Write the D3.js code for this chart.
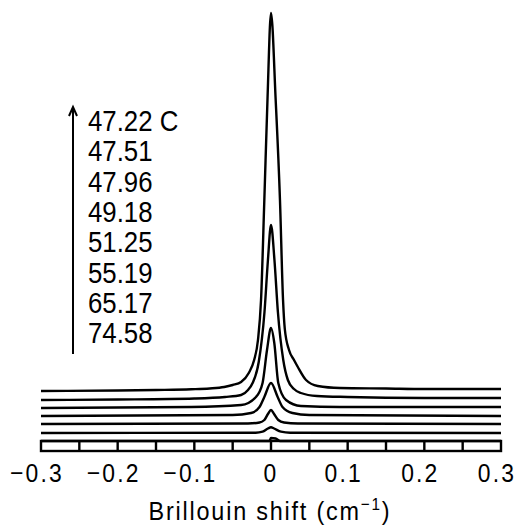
<!DOCTYPE html>
<html>
<head>
<meta charset="utf-8">
<script src="https://cdn.jsdelivr.net/npm/d3@7"></script>
<style>
  body { margin: 0; background: #fff; }
  text { font-family: "Liberation Sans", Arial, sans-serif; fill: #000; }
  .spec { fill: none; stroke: #000; stroke-width: 2.4; stroke-linejoin: round; }
</style>
</head>
<body>
<svg id="chart"></svg>
<script>
// Temperatures listed next to the arrow (top to bottom)
const temps = ["47.22 C", "47.51", "47.96", "49.18", "51.25", "55.19", "65.17", "74.58"];

// Vertical offset of every spectrum (intensity units above the axis box)
const offsets = [50, 41, 33, 25, 17, 8, 0];

// Spectra: [Brillouin shift (cm-1), intensity above own baseline]
const spectra = [
  [[-0.3,0],[-0.2,0.5],[-0.15,1],[-0.104,1.7],[-0.08,2.5],[-0.061,4],[-0.05,6],[-0.039,9],[-0.029,18],[-0.022,31],
   [-0.017,51],[-0.013,91],[-0.0087,191],[-0.0046,291],[0,378],[0.0061,291],[0.0117,191],[0.0157,91],[0.018,62],
   [0.0235,41],[0.03,31],[0.035,24],[0.0457,11],[0.061,5],[0.09,3],[0.15,2.5],[0.2,2],[0.3,2]],
  [[-0.3,0],[-0.2,0.5],[-0.1,1.5],[-0.06,3],[-0.039,5],[-0.03,10],[-0.024,17],[-0.016,38],[-0.0085,88],[-0.004,140],
   [0,175],[0.0045,140],[0.009,88],[0.016,40],[0.022,20],[0.03,11],[0.039,7],[0.06,4],[0.1,3],[0.2,2],[0.3,2]],
  [[-0.3,0],[-0.104,1],[-0.039,3],[-0.0196,11],[-0.011,25],[-0.0052,58],[0,80],[0.0043,65],[0.0095,25],[0.0196,8],
   [0.039,2],[0.09,1],[0.3,1]],
  [[-0.3,0],[-0.05,1],[-0.026,3],[-0.015,9],[-0.0087,19],[0,33],[0.0087,19],[0.015,9],[0.028,3],[0.05,1],[0.3,0]],
  [[-0.3,0],[-0.03,0.5],[-0.015,1.5],[-0.0087,4],[-0.004,10],[0,14],[0.004,10],[0.0095,4],[0.017,1.5],[0.035,0.5],[0.3,0]],
  [[-0.3,0],[-0.02,0.3],[-0.011,1.3],[-0.004,4.5],[0,5.7],[0.004,4.5],[0.013,1.3],[0.025,0.3],[0.3,0]],
  [[-0.3,0],[-0.002,0],[0,3],[0.006,2.5],[0.012,0],[0.3,0]]
];

const xTicks = [-0.3, -0.2, -0.1, 0, 0.1, 0.2, 0.3];
const boxDividers = [-0.25, -0.2, -0.15, -0.1, -0.05, 0, 0.05, 0.1, 0.15, 0.2, 0.25];

const width = 523, height = 526;
const svg = d3.select("#chart").attr("width", width).attr("height", height);

const x = d3.scaleLinear().domain([-0.3, 0.3]).range([41, 501]);
const y = d3.scaleLinear().domain([0, 430]).range([441, 11]);

const line = d3.line()
  .x(d => x(d[0]))
  .y(d => y(d[1]))
  .curve(d3.curveMonotoneX);

// axis box with divisions
svg.append("rect")
  .attr("x", x(-0.3)).attr("y", y(0))
  .attr("width", x(0.3) - x(-0.3)).attr("height", 10)
  .attr("fill", "none").attr("stroke", "#000").attr("stroke-width", 2.4);

svg.selectAll(".div")
  .data(boxDividers)
  .enter().append("line")
  .attr("x1", d => x(d)).attr("x2", d => x(d))
  .attr("y1", y(0)).attr("y2", y(0) + 10)
  .attr("stroke", "#000").attr("stroke-width", 2.4);

// spectra
svg.selectAll(".spec")
  .data(spectra)
  .enter().append("path")
  .attr("class", "spec")
  .attr("d", (s, i) => line(s.map(p => [p[0], p[1] + offsets[i]])));

// tick labels (narrow lettering like the original)
svg.selectAll(".tick")
  .data(xTicks)
  .enter().append("text")
  .attr("transform", d => `translate(${x(d) - (d === 0 ? 0 : 4)},482) scale(0.88,1)`)
  .attr("text-anchor", "middle")
  .attr("font-size", 26)
  .attr("letter-spacing", 2.5)
  .text(d => d === 0 ? "0" : (d < 0 ? "\u2212" + d3.format(".1f")(-d) : d3.format(".1f")(d)));

// axis title
const title = svg.append("text")
  .attr("transform", "translate(270,520) scale(0.9,1)")
  .attr("text-anchor", "middle")
  .attr("font-size", 26)
  .attr("letter-spacing", 2);
title.append("tspan").text("Brillouin shift (cm");
title.append("tspan").attr("dy", -10).attr("font-size", 17).text("\u22121");
title.append("tspan").attr("dy", 10).text(")");

// temperature arrow and labels
const arrowX = 73;
svg.append("line")
  .attr("x1", arrowX).attr("x2", arrowX)
  .attr("y1", 108).attr("y2", 354)
  .attr("stroke", "#000").attr("stroke-width", 2);
svg.append("path")
  .attr("d", `M${arrowX - 4},${116} L${arrowX},${107} L${arrowX + 4},${116}`)
  .attr("fill", "none").attr("stroke", "#000").attr("stroke-width", 2);

svg.selectAll(".temp")
  .data(temps)
  .enter().append("text")
  .attr("transform", (d, i) => `translate(88,${131 + i * 30.3}) scale(0.86,1)`)
  .attr("font-size", 30)
  .text(d => d);
</script>
</body>
</html>
